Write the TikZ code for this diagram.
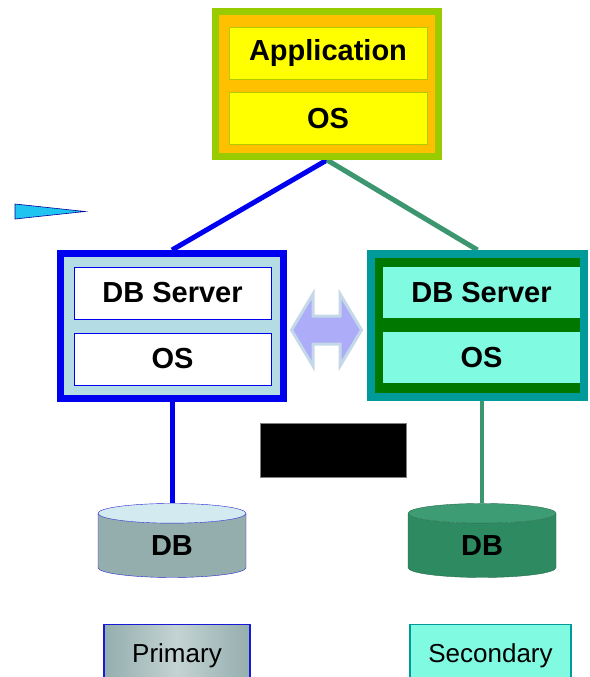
\documentclass[tikz,border=0pt]{standalone}
\usepackage{fontspec}
\setmainfont{Liberation Sans}
\usepackage{xcolor}
\usepackage{tikz}
\usetikzlibrary{
  positioning,
  shapes.geometric,
  backgrounds
}
\definecolor{appgreen}{HTML}{99CC00}
\definecolor{apporange}{HTML}{FFC000}
\definecolor{appyellow}{HTML}{FFFF00}
\definecolor{appedge}{HTML}{B4C800}
\definecolor{priblue}{HTML}{0000F0}
\definecolor{prifill}{HTML}{B4DCE4}
\definecolor{secteal}{HTML}{009A9A}
\definecolor{secgreen}{HTML}{007800}
\definecolor{secaqua}{HTML}{80FAE0}
\definecolor{linegreen}{HTML}{3C9670}
\definecolor{cylgray}{HTML}{94AEAE}
\definecolor{cyltop}{HTML}{D2EAF0}
\definecolor{cylgreen}{HTML}{2E8A60}
\definecolor{cylgtop}{HTML}{3E9C74}
\definecolor{syncfill}{HTML}{ACACF8}
\definecolor{syncedge}{HTML}{C4D8E8}
\definecolor{pointer}{HTML}{20C4F0}
\newcommand{\layertxt}{\fontsize{29}{33}\selectfont\bfseries}
\newcommand{\tagtxt}{\fontsize{26}{30}\selectfont}

\begin{document}
\begin{tikzpicture}[x=1pt, y=-1pt,
  frame/.style={minimum width=223pt, minimum height=145pt, inner sep=0pt},
  layer/.style={minimum width=197pt, minimum height=52pt, inner sep=0pt, font=\layertxt},
  link/.style={line width=5pt},
  dbcyl/.style={cylinder, shape border rotate=90, aspect=0.47, minimum width=148pt,
    minimum height=74pt, inner sep=0pt, font=\layertxt, cylinder uses custom fill},
  tag/.style={minimum height=62pt, inner sep=0pt, font=\tagtxt, line width=1.2pt},
]
  \useasboundingbox (0,0) rectangle (589,677);

  % Application host
  \node[frame, draw=appgreen, line width=7pt, fill=apporange] (app) at (327,84) {};
  \node[layer, draw=appedge, fill=appyellow, minimum width=198pt] (appname) at (328,53) {Application};
  \node[layer, draw=appedge, fill=appyellow, minimum width=198pt, below=13pt of appname] (appos) {OS};

  % Primary server
  \node[frame, draw=priblue, line width=7pt, fill=prifill] (prisrv) at (172,326) {};
  \node[layer, draw=priblue, line width=1pt, fill=white] (pridbs) at (172.5,293) {DB Server};
  \node[layer, draw=priblue, line width=1pt, fill=white, below=13pt of pridbs] (prios) {OS};

  % Secondary server
  \node[frame, draw=secteal, line width=8pt, fill=secgreen, minimum width=213pt, minimum height=143pt] (secsrv) at (477.5,325.5) {};
  \node[layer, fill=secaqua, minimum height=51pt] (secdbs) at (481.5,292.5) {DB Server};
  \node[layer, fill=secaqua, minimum height=51pt, below=14pt of secdbs] (secos) {OS};

  % Replication
  \coordinate (sync) at (326.5,330);
  \draw[shift={(sync)}, fill=syncfill, draw=syncedge, line width=3pt, line join=miter]
    (-35,0) -- (-13.5,-36) -- (-13.5,-14) -- (13.5,-14) -- (13.5,-36) -- (35,0)
    -- (13.5,36) -- (13.5,14) -- (-13.5,14) -- (-13.5,36) -- cycle;

  % Databases
  \node[dbcyl, draw=priblue!70!gray, cylinder body fill=cylgray, cylinder end fill=cyltop] (pridb) at (172,545.5) {DB};
  \node[dbcyl, draw=cylgreen!80!black, cylinder body fill=cylgreen, cylinder end fill=cylgtop] (secdb) at (482,545.5) {DB};

  % Roles
  \node[tag, draw=priblue!80!gray, minimum width=146pt, left color=cylgray, right color=cylgray,
    middle color=cylgray!55!white] (prirole) at (177,655.5) {Primary};
  \node[tag, draw=secteal, minimum width=161pt, fill=secaqua] (secrole) at (490.5,655.5) {Secondary};

  % Hidden label
  \node[fill=black, draw=gray, minimum width=146pt, minimum height=54pt, inner sep=0pt] (mask) at (333,450) {};

  % Pointer
  \draw[fill=pointer, draw=blue!60!black, line width=0.6pt] (15,204) -- (85,211.5) -- (15,219) -- cycle;

  % Links
  \begin{scope}[on background layer]
    \draw[link, priblue] (app.south) -- (prisrv.north);
    \draw[link, linegreen] (app.south) -- (secsrv.north);
    \draw[link, priblue] (pridb.top |- prisrv.south) -- (pridb.top);
    \draw[link, linegreen, line width=4pt] (secdb.top |- secsrv.south) -- (secdb.top);
  \end{scope}
\end{tikzpicture}
\end{document}
